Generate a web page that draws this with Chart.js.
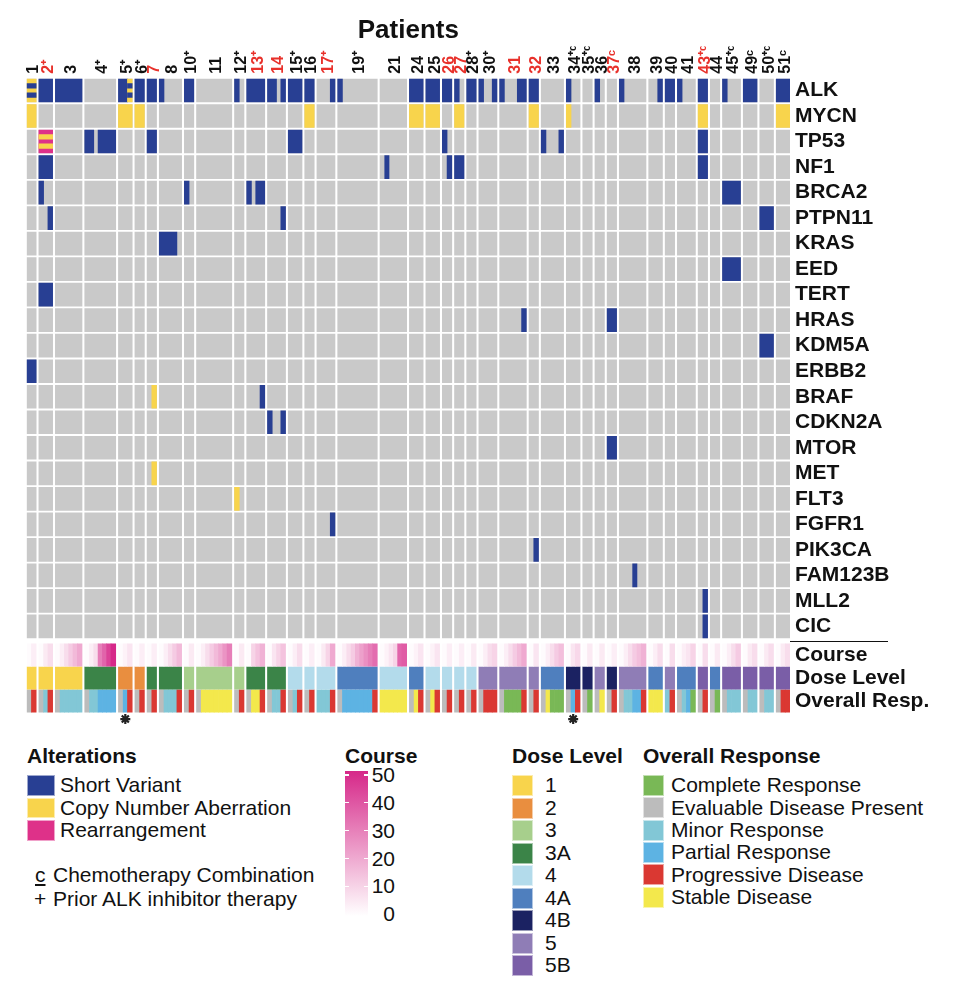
<!DOCTYPE html>
<html><head><meta charset="utf-8">
<script src="https://cdn.jsdelivr.net/npm/chart.js@4.4.0/dist/chart.umd.min.js"></script>
<style>
body{margin:0;background:#fff;font-family:"Liberation Sans",Arial,sans-serif;}
#wrap{position:relative;width:960px;height:1001px;overflow:hidden;}
canvas{position:absolute;left:0;top:0;}
.t{position:absolute;white-space:nowrap;font-size:21px;line-height:24px;color:#111;}
.b{font-weight:bold;}
.sw{position:absolute;box-sizing:border-box;border:1px solid rgba(255,255,255,0.55);}
</style></head><body><div id="wrap"><canvas id="c" width="960" height="735"></canvas></div>
<script>
// ---------------- DATA ----------------
const patients = ['1','2','3','4','5','6','7','8','10','11','12','13','14','15','16','17','19','21','24','25','26','27','28','30','31','32','33','34','35','36','37','38','39','40','41','43','44','45','49','50','51'];
const samplesPerPatient = [2,3,6,7,3,2,2,5,2,8,2,4,4,3,2,4,9,6,3,3,2,2,2,4,6,2,5,3,2,2,2,6,3,2,4,2,2,4,3,3,3];
const priorALK = ['2','4','5','6','10','12','13','15','17','19','28','30','34','35','43','45','50'];
const chemoCombo = ['34','35','37','43','45','49','50','51'];
const redPatients = ['2','7','13','14','17','26','27','31','32','37','43'];
const asteriskPatients = ['5','34'];
const genes = ['ALK','MYCN','TP53','NF1','BRCA2','PTPN11','KRAS','EED','TERT','HRAS','KDM5A','ERBB2','BRAF','CDKN2A','MTOR','MET','FLT3','FGFR1','PIK3CA','FAM123B','MLL2','CIC'];
const trackNames = ['Course','Dose Level','Overall Resp.'];
// [patient, gene, type ("A|B" = striped), fromSample, toSample)
const alterations = [
 ['1','ALK','CNA|SV',0,2],['1','MYCN','CNA',0,2],['1','ERBB2','SV',0,2],
 ['2','ALK','SV',0,3],['2','TP53','RE|CNA',0,3],['2','NF1','SV',0,3],['2','BRCA2','SV',0,1],['2','PTPN11','SV',2,3],['2','TERT','SV',0,3],
 ['3','ALK','SV',0,6],
 ['4','TP53','SV',0,2],['4','TP53','SV',3,7],
 ['5','ALK','SV',0,2],['5','ALK','CNA|SV',2,3],['5','MYCN','CNA',0,3],
 ['6','ALK','SV',0,2],['6','MYCN','CNA',0,2],
 ['7','ALK','SV',0,2],['7','TP53','SV',0,2],['7','BRAF','CNA',1,2],['7','MET','CNA',1,2],
 ['8','ALK','SV',0,1],['8','KRAS','SV',0,4],
 ['10','ALK','SV',0,2],['10','BRCA2','SV',0,1],
 ['12','ALK','SV',0,1],['12','FLT3','CNA',0,1],
 ['13','ALK','SV',0,4],['13','BRCA2','SV',0,1],['13','BRCA2','SV',2,4],['13','BRAF','SV',3,4],
 ['14','ALK','SV',0,2],['14','ALK','SV',3,4],['14','PTPN11','SV',3,4],['14','CDKN2A','SV',0,1],['14','CDKN2A','SV',3,4],
 ['15','ALK','SV',0,3],['15','TP53','SV',0,3],
 ['16','ALK','SV',0,2],['16','MYCN','CNA',0,2],
 ['17','ALK','SV',3,4],['17','FGFR1','SV',3,4],
 ['19','ALK','SV',0,1],
 ['21','NF1','SV',1,2],
 ['24','ALK','SV',0,3],['24','MYCN','CNA',0,3],
 ['25','ALK','SV',0,3],['25','MYCN','CNA',0,3],
 ['26','ALK','SV',0,2],['26','TP53','SV',0,1],['26','NF1','SV',1,2],
 ['27','ALK','SV',0,1],['27','MYCN','CNA',0,2],['27','NF1','SV',0,2],
 ['28','ALK','SV',0,2],
 ['30','ALK','SV',0,1],['30','ALK','SV',3,4],
 ['31','ALK','SV',0,1],['31','ALK','SV',4,6],['31','HRAS','SV',5,6],
 ['32','ALK','SV',0,2],['32','MYCN','CNA',0,2],['32','PIK3CA','SV',1,2],
 ['33','TP53','SV',0,1],['33','TP53','SV',4,5],
 ['34','ALK','SV',0,1],['34','MYCN','CNA',0,1],
 ['36','ALK','SV',0,1],
 ['37','HRAS','SV',0,2],['37','MTOR','SV',0,2],
 ['38','ALK','SV',0,1],['38','FAM123B','SV',3,4],
 ['39','ALK','SV',2,3],
 ['40','ALK','SV',0,2],
 ['41','ALK','SV',0,1],
 ['43','ALK','SV',0,2],['43','MYCN','CNA',0,2],['43','TP53','SV',0,2],['43','NF1','SV',0,2],['43','MLL2','SV',1,2],['43','CIC','SV',1,2],
 ['45','ALK','SV',0,1],['45','BRCA2','SV',0,4],['45','EED','SV',0,4],
 ['49','ALK','SV',0,3],
 ['50','PTPN11','SV',0,3],['50','KDM5A','SV',0,3],
 ['51','ALK','SV',0,3],['51','MYCN','CNA',0,3]
];
const coursePerSample = [
 [1,4],[1,5,8],[1,4,8,12,16,20],[1,4,8,30,36,44,50],[1,3,6],[1,4],[1,4],[1,4,8,12,16],[1,5],
 [1,4,8,12,16,20,25,30],[1,5],[1,10,14,18],[1,6,10,14],[1,4,8],[1,4],[1,5,10,20],
 [1,4,8,12,18,22,26,30,34],[1,3,6,10,36,38],[1,3,6],[1,3,6],[1,4],[1,4],[1,5],[1,4,8,10],
 [1,4,8,12,16,20],[1,6],[1,4,8,12,15],[1,6,9],[1,5],[1,5],[1,4],[1,4,8,12,15,18],[1,4,8],
 [1,8],[1,4,6,10],[1,8],[1,5],[1,4,8,12],[1,5,8],[1,5,8],[1,5,8]
];
const doseByPatient = ['1','1','1','3A','2','2','3A','3A','3','3','3','3A','3A','4','4','4','4A','4','4A','4','4','4','4','5','5','5','4A','4B','4B','5','4B','5','4A','5','4A','5B','4A','5B','5B','5B','5B'];
const responsePerSample = [
 ['EDP','PD'],['EDP','MR','PD'],['EDP','MR','MR','MR','MR','MR'],['EDP','MR','MR','PR','PR','PR','PR'],
 ['EDP','PR','PD'],['EDP','PD'],['EDP','PD'],['EDP','MR','MR','MR','PD'],['EDP','PD'],
 ['EDP','SD','SD','SD','SD','SD','SD','SD'],['EDP','PD'],['EDP','SD','SD','PD'],['EDP','MR','MR','PD'],
 ['EDP','MR','PD'],['EDP','PD'],['MR','MR','MR','PD'],['EDP','PR','PR','PR','PR','PR','PR','PR','PD'],
 ['SD','SD','SD','SD','SD','SD'],['EDP','SD','PD'],['EDP','SD','PD'],['EDP','PD'],['EDP','PD'],['EDP','PD'],
 ['EDP','PD','PD','PD'],['EDP','CR','CR','CR','CR','PD'],['EDP','PD'],['EDP','SD','CR','CR','CR'],
 ['EDP','PR','PD'],['EDP','CR'],['EDP','SD'],['EDP','PD'],['EDP','MR','MR','PR','PR','PD'],['SD','SD','SD'],
 ['MR','PD'],['EDP','MR','PR','CR'],['EDP','PD'],['EDP','CR'],['EDP','MR','MR','MR'],['EDP','MR','MR'],
 ['EDP','MR','MR'],['EDP','PD','PD']
];
const alterationTypes = ['SV','CNA','RE'];
const alterationLabels = ['Short Variant','Copy Number Aberration','Rearrangement'];
const doseLevels = ['1','2','3','3A','4','4A','4B','5','5B'];
const responseCodes = ['CR','EDP','MR','PR','PD','SD'];
const responseLabels = ['Complete Response','Evaluable Disease Present','Minor Response','Partial Response','Progressive Disease','Stable Disease'];
const courseTicks = [50,40,30,20,10,0];

// ---------------- STYLE ----------------
const FONT = '"Liberation Sans", Arial, sans-serif';
const altColors = {SV:'#283f93', CNA:'#f8d44c', RE:'#de3189'};
const doseColors = {'1':'#f8d44c','2':'#e98e3f','3':'#a7cf8c','3A':'#3b8448','4':'#b3dbeb','4A':'#4f7fbe','4B':'#1b2262','5':'#8f7db6','5B':'#7a5ea7'};
const respColors = {CR:'#79b856',EDP:'#bcbcbc',MR:'#82c7d6',PR:'#5db3e3',PD:'#da3832',SD:'#f3e84c'};
const GRAY = '#c9c9c9';
const GAP = 0.83, PAD = 0.1;
const TRACK_Y = [22.12, 23.02, 23.92];
const ASTER_Y = 24.63;
const CELL = 23, TRACK = 22.3;
const STRIPE_OFF = 0.18;
const XLAB_SIZE = 16;

function courseColor(v){
  const t = Math.max(0, Math.min(1, v/50));
  const c0=[255,255,255], c1=[214,40,137];
  const m = c0.map((a,i)=>Math.round(a+(c1[i]-a)*t));
  return `rgb(${m[0]},${m[1]},${m[2]})`;
}

// ---------------- LAYOUT (from data) ----------------
const starts = []; let acc = 0;
samplesPerPatient.forEach(n => { starts.push(acc); acc += n + GAP; });
const xMin = -PAD, xMax = acc - GAP + PAD;
function span(pi, a, b){
  const n = samplesPerPatient[pi];
  return [starts[pi] + a - (a === 0 ? PAD : 0), starts[pi] + b + (b === n ? PAD : 0)];
}
const centers = patients.map((p,i) => starts[i] + samplesPerPatient[i]/2);
function patientLabel(i){
  const p = patients[i];
  return p + (priorALK.includes(p) ? '\u207A' : '') + (chemoCombo.includes(p) ? '\u1D9C' : '');
}

const grayData = [], altData = [], stripeData = [], courseData = [], doseData = [], respData = [];
patients.forEach((p, pi) => {
  const n = samplesPerPatient[pi];
  genes.forEach((g, gi) => grayData.push({x: span(pi,0,n), y: gi}));
  for (let k = 0; k < n; k++) {
    courseData.push({x: span(pi,k,k+1), y: TRACK_Y[0], v: coursePerSample[pi][k]});
    respData.push({x: span(pi,k,k+1), y: TRACK_Y[2], r: responsePerSample[pi][k]});
  }
  doseData.push({x: span(pi,0,n), y: TRACK_Y[1], d: doseByPatient[pi]});
});
alterations.forEach(([p, g, type, a, b]) => {
  const pi = patients.indexOf(p), gi = genes.indexOf(g);
  const [base, stripe] = type.split('|');
  altData.push({x: span(pi,a,b), y: gi, t: base});
  if (stripe) {
    stripeData.push({x: span(pi,a,b), y: gi - STRIPE_OFF, t: stripe});
    stripeData.push({x: span(pi,a,b), y: gi + STRIPE_OFF, t: stripe});
  }
});
const asteriskData = asteriskPatients.map(p => ({x: centers[patients.indexOf(p)], y: ASTER_Y}));

const barBase = {type:'bar', indexAxis:'y', grouped:false, borderWidth:0, borderSkipped:false};

Chart.defaults.font.family = FONT;
new Chart(document.getElementById('c'), {
  type: 'bar',
  data: { datasets: [
    Object.assign({}, barBase, {label:'stripes', data: stripeData, order:0, barThickness: CELL/5,
      backgroundColor: c => c.raw ? altColors[c.raw.t] : GRAY}),
    Object.assign({}, barBase, {label:'alterations', data: altData, order:1, barThickness: CELL,
      backgroundColor: c => c.raw ? altColors[c.raw.t] : GRAY}),
    Object.assign({}, barBase, {label:'cells', data: grayData, order:2, barThickness: CELL, backgroundColor: GRAY}),
    Object.assign({}, barBase, {label:'Course', data: courseData, order:2, barThickness: TRACK,
      backgroundColor: c => c.raw ? courseColor(c.raw.v) : '#fff'}),
    Object.assign({}, barBase, {label:'Dose Level', data: doseData, order:2, barThickness: TRACK,
      backgroundColor: c => c.raw ? doseColors[c.raw.d] : '#fff'}),
    Object.assign({}, barBase, {label:'Overall Resp.', data: respData, order:2, barThickness: TRACK,
      backgroundColor: c => c.raw ? respColors[c.raw.r] : '#fff'}),
    {type:'scatter', label:'asterisk', data: asteriskData, order:0, pointStyle:'star', radius:5,
      borderWidth:2.2, borderColor:'#222', backgroundColor:'#222'}
  ]},
  options: {
    responsive:false, animation:false,
    layout:{autoPadding:false, padding:{left:26.7, right:0, top:0, bottom:6.5}},
    plugins:{
      legend:{display:false}, tooltip:{enabled:false},
      title:{display:true, text:'Patients', fullSize:false, color:'#111',
        font:{size:26, weight:'bold', family:FONT}, padding:{top:15.4, bottom:0}}
    },
    scales:{
      x:{type:'linear', position:'top', min:xMin, max:xMax, offset:false,
        grid:{display:false, drawTicks:false, offset:false}, border:{display:false},
        afterBuildTicks: s => { s.ticks = centers.map(v => ({value:v})); },
        afterFit: s => { s.height = 31.14; s.paddingLeft = 0; s.paddingRight = 0; },
        ticks:{autoSkip:false, minRotation:90, maxRotation:90, padding:4,
          labelOffset: XLAB_SIZE * 1.2 + 2.5,
          font:{size:XLAB_SIZE, weight:'bold', family:FONT},
          color: c => redPatients.includes(patients[c.index]) ? '#e8312b' : '#111',
          callback: (v, i) => patientLabel(i)}
      },
      y:{type:'linear', position:'right', reverse:true, min:-0.5, max:25, offset:false, beginAtZero:false,
        grid:{display:false, drawTicks:false, offset:false}, border:{display:false},
        afterBuildTicks: s => { s.ticks = genes.map((g,i)=>({value:i})).concat(TRACK_Y.map(v=>({value:v}))); },
        afterFit: s => { s.width = 170; s.paddingTop = 0; s.paddingBottom = 0; },
        ticks:{autoSkip:false, padding:5, color:'#111',
          font:{size:21, weight:'bold', family:FONT},
          callback: (v, i) => i < genes.length ? genes[i] : trackNames[i - genes.length]}
      }
    }
  }
});

// ---------------- HTML LEGENDS ----------------
const wrap = document.getElementById('wrap');
function txt(s, x, base, cls, extra){
  const d = document.createElement('div');
  d.className = 't ' + (cls||'');
  d.style.left = x + 'px'; d.style.top = (base - 19.3) + 'px';
  if (extra) Object.assign(d.style, extra);
  d.innerHTML = s; wrap.appendChild(d); return d;
}
function box(x, y, w, h, color, cls){
  const d = document.createElement('div');
  d.className = cls || 'sw';
  Object.assign(d.style, {position:'absolute', left:x+'px', top:y+'px', width:w+'px', height:h+'px', background:color});
  wrap.appendChild(d); return d;
}
// separator under CIC
box(790, 640.5, 98, 1.3, '#111', 'ln');
// Alterations
txt('Alterations', 27, 763, 'b');
alterationTypes.forEach((t, i) => {
  box(27, 775 + i*22.5, 28, 20.5, altColors[t]);
  txt(alterationLabels[i], 60, 792.7 + i*22.5);
});
txt('<u>c</u>', 35, 882.7);
txt('Chemotherapy Combination', 53, 882.7);
txt('+', 34, 906.7);
txt('Prior ALK inhibitor therapy', 53, 906.7);
// Course
txt('Course', 345, 763, 'b');
const cTop = 775, cStep = 27.8;
box(345, cTop - 4, 23, 5*cStep + 6, `linear-gradient(to bottom, ${courseColor(50)}, ${courseColor(0)})`, 'ln');
courseTicks.forEach((v, i) => {
  const y = cTop + i*cStep;
  if (v > 0) { box(345, y - 0.6, 4, 1.2, '#fff', 'ln'); box(364, y - 0.6, 4, 1.2, '#fff', 'ln'); }
  txt(String(v), 350, y + 7.5, '', {width:'45px', textAlign:'right'});
});
// Dose Level
txt('Dose Level', 512, 763, 'b');
doseLevels.forEach((d, i) => {
  box(512, 775 + i*22.5, 21, 21, doseColors[d]);
  txt(d, 545, 792.7 + i*22.5);
});
// Overall Response
txt('Overall Response', 643, 763, 'b');
responseCodes.forEach((r, i) => {
  box(643, 775 + i*22.3, 21, 21, respColors[r]);
  txt(responseLabels[i], 671, 792.7 + i*22.3);
});
</script></body></html>
